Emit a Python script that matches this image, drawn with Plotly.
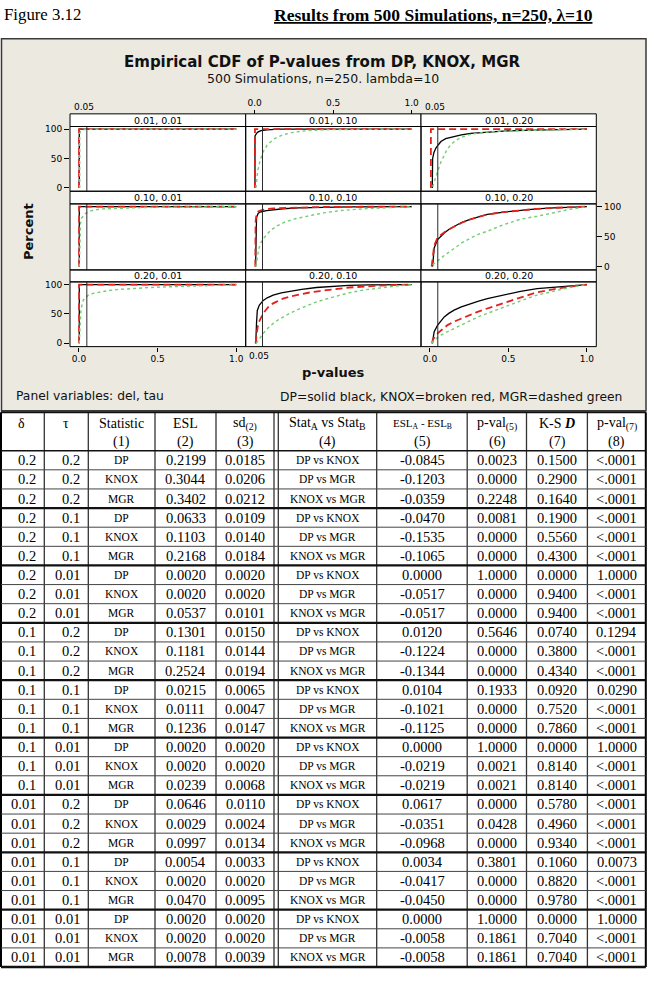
import plotly.graph_objects as go

# ---------------- ECDF curves (x = p-value, y = percent) ----------------
# del=0.01, tau=0.01
P11_DP_X = [0.002, 0.002, 1.0]
P11_DP_Y = [0, 100, 100]
P11_KN_X = [0.001, 0.001, 1.0]
P11_KN_Y = [0, 100, 100]
P11_MG_X = [0.005, 0.005, 0.01, 0.02, 0.035, 0.05, 1.0]
P11_MG_Y = [0, 93, 96, 98, 99.4, 100, 100]
# del=0.01, tau=0.10
P12_DP_X = [0.002, 0.002, 0.01, 0.02, 0.04, 0.08, 0.15, 1.0]
P12_DP_Y = [0, 88, 92, 95, 97.5, 99, 100, 100]
P12_KN_X = [0.002, 0.002, 1.0]
P12_KN_Y = [0, 100, 100]
P12_MG_X = [0.008, 0.01, 0.02, 0.035, 0.055, 0.08, 0.12, 0.18, 0.25, 0.35, 0.5, 1.0]
P12_MG_Y = [0, 8, 30, 47, 62, 73, 83, 90.5, 95, 98, 99.5, 100]
# del=0.01, tau=0.20
P13_DP_X = [0.015, 0.017, 0.025, 0.038, 0.055, 0.07, 0.1, 0.154, 0.2, 0.26, 0.35, 0.49, 0.65, 0.87, 1.0]
P13_DP_Y = [0, 50, 60, 68, 74, 79, 84, 87.6, 90.5, 93, 95, 97, 98.3, 99.2, 100]
P13_KN_X = [0.006, 0.006, 1.0]
P13_KN_Y = [0, 100, 100]
P13_MG_X = [0.017, 0.03, 0.049, 0.07, 0.091, 0.11, 0.133, 0.16, 0.197, 0.26, 0.33, 0.41, 0.55, 0.68, 0.85, 1.0]
P13_MG_Y = [2, 14, 28, 44, 57, 66, 73.5, 80, 86, 91.5, 94, 96, 97.5, 98.3, 99.3, 100]
# del=0.10, tau=0.01
P21_DP_X = [0.002, 0.002, 1.0]
P21_DP_Y = [0, 100, 100]
P21_KN_X = [0.001, 0.001, 1.0]
P21_KN_Y = [0, 100, 100]
P21_MG_X = [0.002, 0.004, 0.01, 0.017, 0.025, 0.038, 0.06, 0.09, 0.15, 0.24, 0.4, 0.56, 0.8, 1.0]
P21_MG_Y = [0, 40, 72, 81, 84.5, 88, 91.5, 94, 96.3, 97.5, 98.5, 99, 100, 100]
# del=0.10, tau=0.10
P22_DP_X = [0.006, 0.008, 0.012, 0.023, 0.04, 0.076, 0.12, 0.18, 0.28, 0.4, 0.6, 1.0]
P22_DP_Y = [0, 70, 82, 89, 91.5, 93.5, 95, 96.5, 97.8, 98.8, 99.6, 100]
P22_KN_X = [0.004, 0.006, 0.012, 0.023, 0.04, 0.076, 0.12, 0.2, 0.35, 0.5, 1.0]
P22_KN_Y = [0, 75, 88, 92, 94, 96, 97, 98, 99, 99.7, 100]
P22_MG_X = [0.008, 0.015, 0.025, 0.034, 0.05, 0.076, 0.1, 0.14, 0.19, 0.245, 0.31, 0.37, 0.45, 0.55, 0.7, 0.85, 1.0]
P22_MG_Y = [0, 15, 28, 36.6, 45, 53, 60, 67.5, 74, 79, 83, 86, 90, 93.5, 96.5, 98.7, 100]
# del=0.10, tau=0.20
P23_DP_X = [0.017, 0.019, 0.027, 0.049, 0.07, 0.091, 0.12, 0.154, 0.2, 0.26, 0.31, 0.366, 0.47, 0.577, 0.68, 0.79, 0.9, 1.0]
P23_DP_Y = [0, 11, 31, 45, 51, 56, 62, 67.5, 73.5, 79, 83, 87, 91, 94, 96.3, 98, 99.3, 100]
P23_KN_X = [0.011, 0.013, 0.02, 0.027, 0.045, 0.07, 0.112, 0.16, 0.21, 0.26, 0.366, 0.47, 0.577, 0.68, 0.79, 0.9, 1.0]
P23_KN_Y = [0, 5, 22, 35, 46, 53, 61, 68, 74, 79, 87, 91, 94, 96.3, 98, 99.3, 100]
P23_MG_X = [0.017, 0.04, 0.07, 0.11, 0.154, 0.2, 0.26, 0.31, 0.366, 0.42, 0.47, 0.53, 0.577, 0.683, 0.79, 0.894, 1.0]
P23_MG_Y = [2.8, 8, 14, 22, 31, 39, 47.8, 54, 59, 65, 70, 75, 79, 84, 90, 95.6, 100]
# del=0.20, tau=0.01
P31_DP_X = [0.002, 0.002, 1.0]
P31_DP_Y = [0, 100, 100]
P31_KN_X = [0.001, 0.001, 1.0]
P31_KN_Y = [0, 100, 100]
P31_MG_X = [0.002, 0.006, 0.012, 0.02, 0.027, 0.04, 0.06, 0.09, 0.133, 0.18, 0.24, 0.33, 0.45, 0.6, 0.77, 1.0]
P31_MG_Y = [0, 35, 55, 66, 73, 77.5, 82, 85, 87.5, 89.5, 91.5, 93.5, 95, 96.5, 97.6, 99.5]
# del=0.20, tau=0.10
P32_DP_X = [0.006, 0.008, 0.012, 0.017, 0.03, 0.055, 0.08, 0.118, 0.17, 0.224, 0.3, 0.394, 0.5, 0.6, 0.73, 1.0]
P32_DP_Y = [0, 5.6, 35, 56, 65, 73, 77.5, 82, 86, 89, 92, 95, 97, 98.5, 99.5, 100]
P32_KN_X = [0.006, 0.008, 0.015, 0.023, 0.04, 0.055, 0.075, 0.097, 0.14, 0.18, 0.23, 0.288, 0.35, 0.415, 0.5, 0.6, 0.72, 0.85, 1.0]
P32_KN_Y = [0, 3, 20, 34, 44, 51, 58, 65, 71, 76, 80, 83.6, 86.5, 89, 92, 95, 97, 99, 100]
P32_MG_X = [0.01, 0.02, 0.035, 0.055, 0.085, 0.118, 0.15, 0.18, 0.23, 0.288, 0.34, 0.394, 0.45, 0.5, 0.6, 0.7, 0.8, 0.9, 1.0]
P32_MG_Y = [0, 4, 10, 17, 26, 34, 40, 45, 52, 59, 65, 70.5, 75, 79, 86, 91, 94.5, 97.5, 100]
# del=0.20, tau=0.20
P33_DP_X = [0.015, 0.017, 0.022, 0.027, 0.049, 0.07, 0.091, 0.12, 0.154, 0.2, 0.26, 0.31, 0.366, 0.42, 0.47, 0.577, 0.683, 0.79, 0.9, 1.0]
P33_DP_Y = [0, 2.8, 12, 19.7, 31, 39, 45, 51, 56.4, 62, 67.8, 72, 76, 79.5, 83, 88.6, 93, 95.6, 98, 100]
P33_KN_X = [0.015, 0.017, 0.03, 0.049, 0.08, 0.112, 0.15, 0.197, 0.25, 0.303, 0.35, 0.408, 0.46, 0.514, 0.57, 0.62, 0.67, 0.725, 0.79, 0.852, 0.93, 1.0]
P33_KN_Y = [0, 5.6, 11, 17, 24, 31, 36.5, 42, 48, 53.6, 58, 63, 68, 73, 78, 82, 86, 89, 92.5, 95, 98, 100]
P33_MG_X = [0.015, 0.017, 0.04, 0.07, 0.11, 0.154, 0.2, 0.26, 0.31, 0.366, 0.42, 0.47, 0.52, 0.577, 0.63, 0.683, 0.74, 0.79, 0.84, 0.894, 0.95, 1.0]
P33_MG_Y = [0, 2.8, 8, 14, 19.5, 25, 31.5, 39.5, 45.5, 51, 56.5, 62, 67.5, 73, 77.5, 82, 86, 89, 92, 95, 98, 100]

STRIP_LABELS = ["0.01, 0.01", "0.01, 0.10", "0.01, 0.20",
                "0.10, 0.01", "0.10, 0.10", "0.10, 0.20",
                "0.20, 0.01", "0.20, 0.10", "0.20, 0.20"]
X_TICKS = [0, 0.5, 1.0]
X_TICKTEXT = ["0.0", "0.5", "1.0"]
Y_TICKS = [0, 50, 100]
REF_P = 0.05

# ---------------- table values ----------------
DELTA = ["0.2"] * 9 + ["0.1"] * 9 + ["0.01"] * 9
TAU = (["0.2"] * 3 + ["0.1"] * 3 + ["0.01"] * 3) * 3
STAT = ["DP", "KNOX", "MGR"] * 9
ESL = [0.2199, 0.3044, 0.3402, 0.0633, 0.1103, 0.2168, 0.0020, 0.0020, 0.0537,
       0.1301, 0.1181, 0.2524, 0.0215, 0.0111, 0.1236, 0.0020, 0.0020, 0.0239,
       0.0646, 0.0029, 0.0997, 0.0054, 0.0020, 0.0470, 0.0020, 0.0020, 0.0078]
SD = [0.0185, 0.0206, 0.0212, 0.0109, 0.0140, 0.0184, 0.0020, 0.0020, 0.0101,
      0.0150, 0.0144, 0.0194, 0.0065, 0.0047, 0.0147, 0.0020, 0.0020, 0.0068,
      0.0110, 0.0024, 0.0134, 0.0033, 0.0020, 0.0095, 0.0020, 0.0020, 0.0039]
COMP = ["DP vs KNOX", "DP vs MGR", "KNOX vs MGR"] * 9
DIFF = ["-0.0845", "-0.1203", "-0.0359", "-0.0470", "-0.1535", "-0.1065", "0.0000", "-0.0517", "-0.0517",
        "0.0120", "-0.1224", "-0.1344", "0.0104", "-0.1021", "-0.1125", "0.0000", "-0.0219", "-0.0219",
        "0.0617", "-0.0351", "-0.0968", "0.0034", "-0.0417", "-0.0450", "0.0000", "-0.0058", "-0.0058"]
PVAL5 = ["0.0023", "0.0000", "0.2248", "0.0081", "0.0000", "0.0000", "1.0000", "0.0000", "0.0000",
         "0.5646", "0.0000", "0.0000", "0.1933", "0.0000", "0.0000", "1.0000", "0.0021", "0.0021",
         "0.0000", "0.0428", "0.0000", "0.3801", "0.0000", "0.0000", "1.0000", "0.1861", "0.1861"]
KSD = ["0.1500", "0.2900", "0.1640", "0.1900", "0.5560", "0.4300", "0.0000", "0.9400", "0.9400",
       "0.0740", "0.3800", "0.4340", "0.0920", "0.7520", "0.7860", "0.0000", "0.8140", "0.8140",
       "0.5780", "0.4960", "0.9340", "0.1060", "0.8820", "0.9780", "0.0000", "0.7040", "0.7040"]
PVAL7 = ["<.0001", "<.0001", "<.0001", "<.0001", "<.0001", "<.0001", "1.0000", "<.0001", "<.0001",
         "0.1294", "<.0001", "<.0001", "0.0290", "<.0001", "<.0001", "1.0000", "<.0001", "<.0001",
         "<.0001", "<.0001", "<.0001", "0.0073", "<.0001", "<.0001", "1.0000", "<.0001", "<.0001"]
HEAD1 = ["δ", "τ", "Statistic", "ESL", "sd<sub>(2)</sub>", "Stat<sub>A</sub> vs Stat<sub>B</sub>",
         "ESL<sub>A</sub> - ESL<sub>B</sub>", "p-val<sub>(5)</sub>", "K-S <b><i>D</i></b>", "p-val<sub>(7)</sub>"]
HEAD2 = ["", "", "(1)", "(2)", "(3)", "(4)", "(5)", "(6)", "(7)", "(8)"]

PANELS = [
    (P11_DP_X, P11_DP_Y, P11_KN_X, P11_KN_Y, P11_MG_X, P11_MG_Y),
    (P12_DP_X, P12_DP_Y, P12_KN_X, P12_KN_Y, P12_MG_X, P12_MG_Y),
    (P13_DP_X, P13_DP_Y, P13_KN_X, P13_KN_Y, P13_MG_X, P13_MG_Y),
    (P21_DP_X, P21_DP_Y, P21_KN_X, P21_KN_Y, P21_MG_X, P21_MG_Y),
    (P22_DP_X, P22_DP_Y, P22_KN_X, P22_KN_Y, P22_MG_X, P22_MG_Y),
    (P23_DP_X, P23_DP_Y, P23_KN_X, P23_KN_Y, P23_MG_X, P23_MG_Y),
    (P31_DP_X, P31_DP_Y, P31_KN_X, P31_KN_Y, P31_MG_X, P31_MG_Y),
    (P32_DP_X, P32_DP_Y, P32_KN_X, P32_KN_Y, P32_MG_X, P32_MG_Y),
    (P33_DP_X, P33_DP_Y, P33_KN_X, P33_KN_Y, P33_MG_X, P33_MG_Y),
]

# ---------------- layout geometry (pixels) ----------------
W, H = 654, 1001


def fx(x):
    return x / W


def fy(y):
    return 1 - y / H


COLS = [(70.0, 245.7), (245.7, 421.0), (421.0, 596.3)]
ROWS = [(125.0, 190.0), (202.7, 269.0), (281.0, 346.0)]
STRIPS = [(112.3, 125.0), (190.0, 202.7), (269.0, 281.0)]
XR = [-0.057, 1.06]
YR = [-5.6, 104.6]
GF = "DejaVu Sans"
TF = "Liberation Serif"

STYLES = [
    dict(color="#000000", width=1.3),
    dict(color="#E4201C", width=1.8, dash="7px,4px"),
    dict(color="#74CC74", width=1.4, dash="3px,3px"),
]

fig = go.Figure()
shapes = []
ann = []
lay = {}

# graph box
shapes.append(dict(type="rect", xref="paper", yref="paper", x0=fx(1.5), x1=fx(646), y0=fy(410.5), y1=fy(37),
                   fillcolor="#ECE9E1", line=dict(color="#3a3a3a", width=1.5), layer="below"))

tickfont = dict(family=GF, size=9, color="#000")
for k, pan in enumerate(PANELS):
    r, c = divmod(k, 3)
    n = k + 1
    sfx = "" if n == 1 else str(n)
    x0, x1 = COLS[c]
    y0, y1 = ROWS[r]
    sy0, sy1 = STRIPS[r]
    shapes.append(dict(type="rect", xref="paper", yref="paper", x0=fx(x0), x1=fx(x1), y0=fy(y1), y1=fy(y0),
                       fillcolor="white", line=dict(width=0), layer="below"))
    shapes.append(dict(type="rect", xref="paper", yref="paper", x0=fx(x0), x1=fx(x1), y0=fy(sy1), y1=fy(sy0),
                       fillcolor="white", line=dict(color="#000", width=1), layer="below"))
    ann.append(dict(x=fx((x0 + x1) / 2), y=fy((sy0 + sy1) / 2), text=STRIP_LABELS[k],
                    font=dict(family=GF, size=9.5, color="#000")))
    for j in range(3):
        fig.add_trace(go.Scatter(x=pan[2 * j], y=pan[2 * j + 1], mode="lines", line=STYLES[j],
                                 xaxis="x" + sfx, yaxis="y" + sfx, hoverinfo="skip", showlegend=False))
    shapes.append(dict(type="line", xref="x" + sfx, yref="y" + sfx + " domain", x0=REF_P, x1=REF_P, y0=0, y1=1,
                       line=dict(color="#2b2b2b", width=1)))
    shapes.append(dict(type="rect", xref="paper", yref="paper", x0=fx(x0), x1=fx(x1), y0=fy(y1), y1=fy(y0),
                       line=dict(color="#000", width=1), fillcolor="rgba(0,0,0,0)", layer="above"))
    xa = dict(domain=[fx(x0), fx(x1)], range=XR, showgrid=False, zeroline=False, showline=False,
              anchor="y" + sfx, showticklabels=False, ticks="", fixedrange=True)
    ya = dict(domain=[fy(y1), fy(y0)], range=YR, showgrid=False, zeroline=False, showline=False,
              anchor="x" + sfx, showticklabels=False, ticks="", fixedrange=True)
    if (r, c) in [(2, 0), (2, 2)]:
        xa.update(tickvals=X_TICKS, ticktext=X_TICKTEXT, ticks="outside", ticklen=4, tickcolor="#000",
                  showticklabels=True, tickfont=tickfont, side="bottom")
    if (r, c) == (0, 1):
        xa.update(tickvals=X_TICKS, ticktext=X_TICKTEXT, ticks="outside", ticklen=4, tickcolor="#000",
                  showticklabels=True, tickfont=tickfont, side="top", anchor="free", position=fy(112.3))
    if c == 0 and r in (0, 2):
        ya.update(tickvals=Y_TICKS, ticks="outside", ticklen=5, tickcolor="#000",
                  showticklabels=True, tickfont=tickfont, side="left")
    if (r, c) == (1, 2):
        ya.update(tickvals=Y_TICKS, ticks="outside", ticklen=5, tickcolor="#000",
                  showticklabels=True, tickfont=tickfont, side="right")
    lay["xaxis" + sfx] = xa
    lay["yaxis" + sfx] = ya
    # reference-line labels
    if (r, c) in [(0, 0), (0, 2)]:
        ann.append(dict(x=REF_P, xref="x" + sfx, xshift=-2.5, y=fy(105.5), text="0.05", font=tickfont))
    if (r, c) == (2, 1):
        ann.append(dict(x=REF_P, xref="x" + sfx, xshift=-3, y=fy(355.5), text="0.05", font=tickfont))

# graph texts
ann += [
    dict(x=fx(322), y=fy(60), text="<b>Empirical CDF of P-values from DP, KNOX, MGR</b>",
         font=dict(family=GF, size=15, color="#111")),
    dict(x=fx(322.5), y=fy(77), text="500 Simulations, n=250. lambda=10",
         font=dict(family=GF, size=12.5, color="#111")),
    dict(x=fx(28), y=fy(231), text="<b>Percent</b>", textangle=-90,
         font=dict(family=GF, size=13, color="#111")),
    dict(x=fx(332.5), y=fy(372), text="<b>p-values</b>", font=dict(family=GF, size=13, color="#111")),
    dict(x=fx(14), y=fy(395.5), xanchor="left", text="Panel variables: del, tau",
         font=dict(family=GF, size=12.3, color="#111")),
    dict(x=fx(624), y=fy(396.5), xanchor="right", text="DP=solid black, KNOX=broken red, MGR=dashed green",
         font=dict(family=GF, size=12.3, color="#111")),
    dict(x=fx(2), y=fy(13), xanchor="left", text="Figure 3.12", font=dict(family=TF, size=16.8, color="#000")),
    dict(x=fx(433), y=fy(13), text="<b><u>Results from 500 Simulations, n=250, λ=10</u></b>",
         font=dict(family=TF, size=17.5, color="#000")),
]

# ---------------- table ----------------
T_TOP, T_HEAD, ROW_H = 412.0, 450.5, 19.2
NROW = len(ESL)
T_BOT = T_HEAD + NROW * ROW_H
VX = [44.3, 88.3, 155.0, 216.0, 274.0, 278.3, 376.7, 467.2, 526.5, 587.4]
L_X, R_X = 1.0, 645.8
CX = [22.0, 66.3, 121.7, 185.5, 245.0, 327.5, 422.0, 497.0, 557.0, 616.6]

for v in VX:
    shapes.append(dict(type="line", xref="paper", yref="paper", x0=fx(v), x1=fx(v), y0=fy(T_BOT), y1=fy(T_TOP),
                       line=dict(color="#333", width=1.3)))
for v in (L_X, R_X):
    shapes.append(dict(type="line", xref="paper", yref="paper", x0=fx(v), x1=fx(v), y0=fy(T_BOT), y1=fy(T_TOP),
                       line=dict(color="#000", width=2)))
hl = [(T_TOP, 2), (T_HEAD, 1.6)]
for i in range(1, NROW):
    hl.append((T_HEAD + i * ROW_H, 2.2 if i % 3 == 0 else 1))
hl.append((T_BOT, 2.4))
for yv, wv in hl:
    shapes.append(dict(type="line", xref="paper", yref="paper", x0=fx(L_X), x1=fx(R_X), y0=fy(yv), y1=fy(yv),
                       line=dict(color="#111" if wv > 1.5 else "#444", width=wv)))

hf = dict(family=TF, size=14, color="#000")
for j in range(10):
    f1 = dict(family=TF, size=11, color="#000") if j == 6 else hf
    ann.append(dict(x=fx(CX[j]), y=fy(423.5), text=HEAD1[j], font=f1))
    if HEAD2[j]:
        ann.append(dict(x=fx(CX[j]), y=fy(441.5), text=HEAD2[j], font=hf))

nf = dict(family=TF, size=14.5, color="#000")
sf = dict(family=TF, size=11.5, color="#000")
for i in range(NROW):
    yc = fy(T_HEAD + (i + 0.5) * ROW_H)
    cells = [
        (DELTA[i], fx(36.5), "right", nf),
        (TAU[i], fx(80.5), "right", nf),
        (STAT[i], fx(CX[2]), "center", sf),
        (f"{ESL[i]:.4f}", fx(CX[3]), "center", nf),
        (f"{SD[i]:.4f}", fx(CX[4]), "center", nf),
        (COMP[i], fx(CX[5]), "center", sf),
        (DIFF[i], fx(CX[6]), "center", nf),
        (PVAL5[i], fx(CX[7]), "center", nf),
        (KSD[i], fx(CX[8]), "center", nf),
        (PVAL7[i], fx(CX[9]), "center", nf),
    ]
    for txt, xv, anc, ft in cells:
        ann.append(dict(x=xv, y=yc, xanchor=anc, text=txt, font=ft, borderpad=0))

for a in ann:
    a.setdefault("xref", "paper")
    a.setdefault("yref", "paper")
    a.setdefault("showarrow", False)
    a.setdefault("xanchor", "center")
    a.setdefault("yanchor", "middle")

fig.update_layout(
    width=W, height=H, margin=dict(l=0, r=0, t=0, b=0, pad=0),
    paper_bgcolor="white", plot_bgcolor="rgba(0,0,0,0)",
    showlegend=False, shapes=shapes, annotations=ann, **lay,
)
fig.write_html("out.html")
